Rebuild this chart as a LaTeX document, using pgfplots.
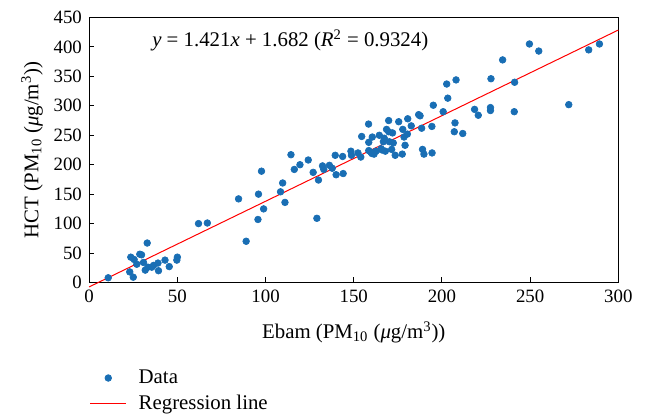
\documentclass[border=0pt]{standalone}
\usepackage{pgfplots}
\pgfplotsset{compat=1.18}
\usepackage{fontspec}
\setmainfont{Liberation Serif}
\definecolor{dotblue}{RGB}{25,110,180}
\begin{document}
\fontsize{12.5pt}{15pt}\selectfont
\begin{tikzpicture}
\begin{axis}[
  name=ax,
  scale only axis=true,
  width=317.5pt, height=159pt,
  xmin=0, xmax=300, ymin=0, ymax=450,
  xtick={0,50,...,300}, ytick={0,50,...,450},
  xtick pos=bottom, ytick pos=left,
  tick align=inside,
  major tick length=3pt,
  axis line style={black, line width=0.6pt},
  tick style={black, line width=0.6pt},
  /pgf/number format/assume math mode=true,
  ticklabel style={font=\fontsize{11.3pt}{13pt}\selectfont},
  xlabel={Ebam (PM\textsubscript{10} (\textit{μ}g/m\textsuperscript{3}))},
  ylabel={HCT (PM\textsubscript{10} (\textit{μ}g/m\textsuperscript{3}))},
  label style={font=\fontsize{12.5pt}{15pt}\selectfont},
  xlabel style={yshift=-3pt},
  ylabel style={yshift=-2pt},
  clip=false,
  legend style={at={(0,-0.315)}, anchor=north west, draw=none, fill=none,
    font=\fontsize{12.5pt}{15pt}\selectfont, row sep=1pt, inner sep=0pt},
  legend cell align=left,
]
\addplot[only marks, mark=*, mark size=2pt, color=dotblue,
  legend image code/.code={\fill[dotblue] (0.38cm,0cm) circle (2pt); \path[draw=none] (0cm,0cm) -- (0.76cm,0cm);}] coordinates {
(10.8,8) (23,18) (25,9) (23.6,43) (25.5,39) (27,31) (28.7,48) (29.7,47)
(30.8,34) (32.9,67) (31.8,21) (33.3,26) (35.5,26) (36.5,29) (39,33) (39.3,20)
(43,38) (45.4,27) (50,43) (49.7,38) (62,100) (67,101) (84.7,142) (89,70)
(96,150) (95.7,107) (97.7,189) (98.9,125) (108.5,154) (109.7,169) (111,136)
(114.4,217) (116.3,192) (119.5,200) (124.2,208) (127,187) (129.1,109) (130,174)
(132.3,198) (133,192) (136.2,199) (137.8,194) (139.5,216) (140,183) (143.7,214)
(144,185) (148.4,223) (148.7,216) (152.4,220) (154,213) (154.5,248) (158.5,238)
(158.5,224) (158.4,269) (160.3,219) (159.8,221) (161.5,218) (160.5,247)
(162.6,223) (164.5,250) (165.5,227) (166,225) (166.8,239) (167.3,245)
(167.9,223) (168.6,260) (169.8,275) (169.8,256) (170.2,239) (171.5,226)
(172,254) (172.4,237) (173.5,216) (175.5,273) (177.5,218) (177.8,260)
(178.5,247) (179.1,233) (180.4,252) (180.6,278) (182.6,266) (186.8,285)
(187.6,283) (188.5,262) (189,226) (189.8,218) (194.3,265) (194.4,220)
(195.1,301) (200.7,290) (202.7,337) (203.3,313) (207,256) (207.4,271)
(208,344) (211.8,253) (218.5,294) (220.6,284) (227.5,297) (227.5,292)
(227.8,346) (234.4,378) (241,290) (241.2,340) (249.6,405) (254.9,393)
(271.9,302) (283.2,395) (289.3,405)
};
\addlegendentry{\hspace{5pt}Data}
\addplot[color=red, line width=0.6pt,
  legend image code/.code={\draw[red, line width=0.9pt] (0cm,0cm) -- (0.76cm,0cm);}] coordinates {(0,-7.5) (300,428.7)};
\addlegendentry{\hspace{5pt}Regression line}
\node at (axis cs:114,411.5) {\textit{y} = 1.421\textit{x} + 1.682 (\textit{R}\textsuperscript{2} = 0.9324)};
\end{axis}
\pgfresetboundingbox
\path[use as bounding box] ([xshift=-53.5pt,yshift=-80.7pt]ax.south west) rectangle ([xshift=17.2pt,yshift=10.5pt]ax.north east);
\end{tikzpicture}
\end{document}
